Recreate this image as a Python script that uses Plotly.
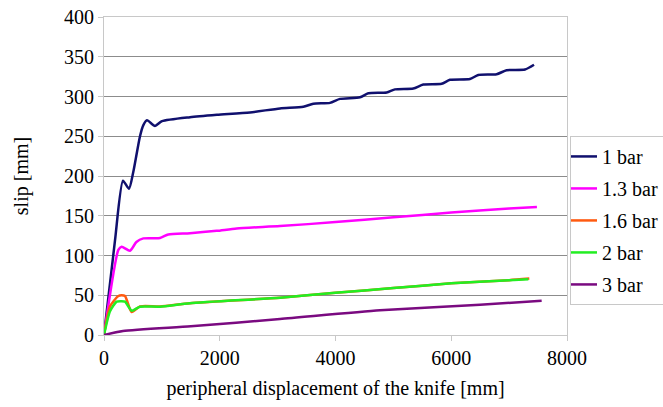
import plotly.graph_objects as go

# ---- data ----
x_1bar = [0, 190, 328, 432, 506, 622, 680, 743, 881, 1002, 1486, 1952, 2522, 3041, 3444, 3617, 3905,
          4078, 4423, 4567, 4884, 5028, 5344, 5517, 5834, 5978, 6323, 6467, 6784, 6956, 7274, 7430]
y_1bar = [0, 119, 194, 184, 205, 250, 264, 270, 263, 269, 274, 277, 280, 285, 287, 291, 292,
          297, 299, 304, 305, 309, 310, 315, 316, 321, 322, 327, 328, 333, 334, 340]

x_13bar = [0, 248, 305, 449, 560, 680, 968, 1111, 1486, 1947, 2293, 3041, 4000, 5000, 6000, 7000, 7480]
y_13bar = [0, 107, 111, 106, 117, 121.5, 122, 126.5, 128, 131, 134, 137, 142, 148, 154, 159, 161]

x_16bar = [0, 104, 248, 305, 363, 478, 622, 968, 1486, 3041, 4000, 5000, 6000, 7000, 7349]
y_16bar = [0, 36, 49, 50, 49, 29, 36, 36, 40, 47, 53, 59, 65, 69, 71]

x_2bar = [0, 104, 219, 300, 363, 478, 622, 968, 1486, 3041, 4000, 5000, 6000, 7000, 7332]
y_2bar = [0, 30, 42, 42.5, 42, 30.6, 35.6, 35.6, 40, 47, 53, 59, 65, 69, 70]

x_3bar = [0, 328, 1500, 3041, 4769, 6497, 7562]
y_3bar = [0, 5, 11, 20, 31, 38, 43]

names = ["1 bar", "1.3 bar", "1.6 bar", "2 bar", "3 bar"]
colors = ["#10106e", "#ff00ff", "#ff5a10", "#22ee22", "#7a0a80"]

x_ticks = [0, 2000, 4000, 6000, 8000]
y_ticks = [0, 50, 100, 150, 200, 250, 300, 350, 400]

series = [(x_1bar, y_1bar), (x_13bar, y_13bar), (x_16bar, y_16bar), (x_2bar, y_2bar), (x_3bar, y_3bar)]

FONT = "Liberation Serif"

fig = go.Figure()
for i, ((xs, ys), nm, c) in enumerate(zip(series, names, colors)):
    fig.add_trace(go.Scatter(x=xs, y=ys, name=nm, mode="lines",
                             line=dict(color=c, width=2.5, shape="spline", smoothing=0.6),
                             legendgroup=nm))

fig.update_layout(
    width=663, height=407,
    margin=dict(l=104, r=96, t=17, b=72, autoexpand=False),
    paper_bgcolor="white", plot_bgcolor="white",
    font=dict(family=FONT, size=20, color="black"),
    showlegend=True,
    legend=dict(x=1.0065, y=0.626, xanchor="left", yanchor="top",
                bordercolor="#c8c8c8", borderwidth=1, bgcolor="white",
                font=dict(family=FONT, size=20, color="black"),
                itemwidth=30, tracegroupgap=3, indentation=-9,
                traceorder="grouped"),
)
fig.update_xaxes(range=[0, 8000], tickvals=x_ticks, ticktext=[str(v) for v in x_ticks],
                 showgrid=False, zeroline=False, showline=True, linecolor="#c8c8c8", linewidth=1,
                 mirror=True, ticks="outside", ticklen=5, tickcolor="#c8c8c8",
                 title=dict(text="peripheral displacement of the knife [mm]", standoff=12,
                            font=dict(family=FONT, size=20)),
                 tickfont=dict(family=FONT, size=20))
fig.update_yaxes(range=[0, 400], tickvals=y_ticks, ticktext=[str(v) for v in y_ticks],
                 showgrid=True, gridcolor="#8c8c8c", gridwidth=1, zeroline=False,
                 showline=True, linecolor="#c8c8c8", linewidth=1, mirror=True,
                 ticks="outside", ticklen=5, tickcolor="#c8c8c8",
                 title=dict(text="slip [mm]", standoff=30, font=dict(family=FONT, size=20)),
                 tickfont=dict(family=FONT, size=20))

fig.write_html("out.html", config={"displayModeBar": False},
               post_script="document.body.style.margin='0px';")
